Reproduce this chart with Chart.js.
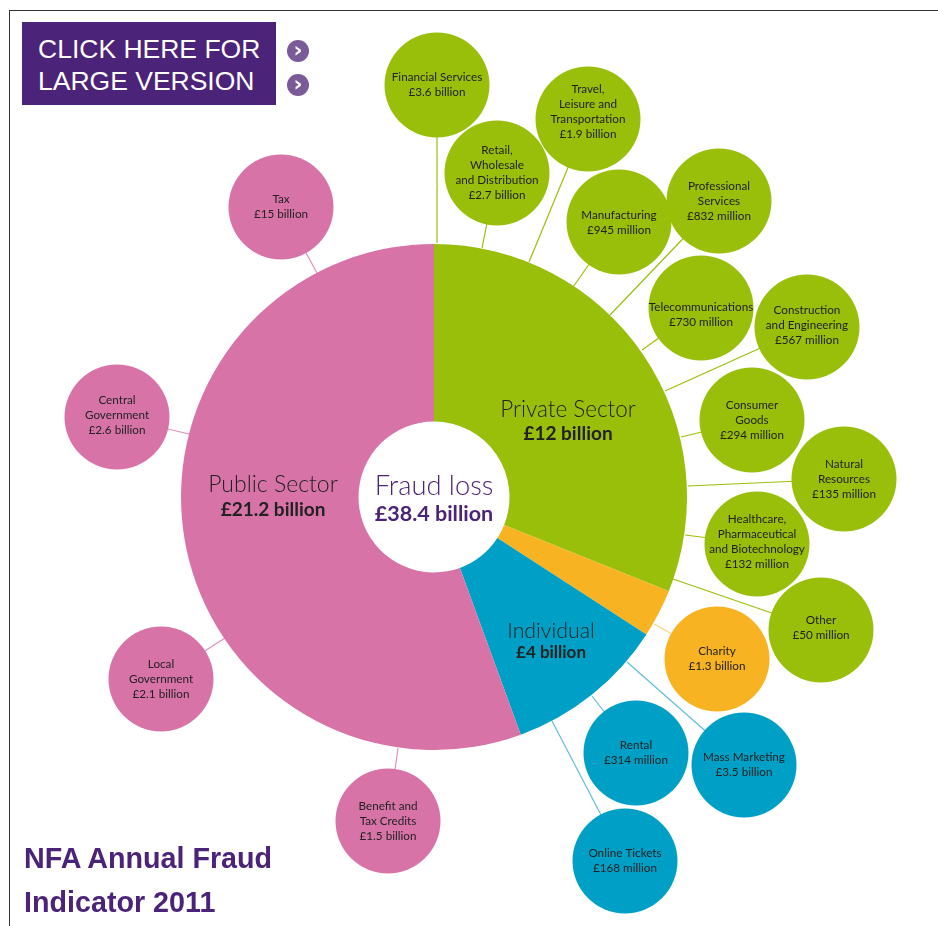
<!DOCTYPE html>
<html>
<head>
<meta charset="utf-8">
<title>NFA Annual Fraud Indicator 2011</title>
<script src="https://cdn.jsdelivr.net/npm/chart.js@4"></script>
<style>
    html, body { margin: 0; padding: 0; background: #fff; overflow: hidden; }
    #page { position: relative; width: 938px; height: 926px; }
    #page canvas { position: absolute; }
    #frame { position: absolute; left: 9px; top: 10px; width: 929px; height: 916px;
        border-left: 1px solid #333; border-top: 1px solid #333; box-sizing: border-box; }
    #button { position: absolute; left: 22px; top: 22px; width: 254px; height: 83px; background: #4B2378;
        color: #fff; font: 26.5px/32px "Liberation Sans", sans-serif; padding: 11px 0 0 16px; box-sizing: border-box; white-space: nowrap; }
    .arrow { position: absolute; left: 287px; width: 22px; height: 22px; border-radius: 50%; background: #7A5A98;
        color: #fff; font: bold 22px/19px "DejaVu Sans", sans-serif; text-align: center; }
    #title { position: absolute; left: 24px; top: 836px; color: #4B2378;
        font: bold 28.7px/44px "Liberation Sans", sans-serif; white-space: nowrap; }
</style>
</head>
<body>
<div id="page">
    <div id="frame"></div>
    <canvas id="linksChart" width="938" height="926" style="left:0;top:0"></canvas>
    <canvas id="sectorChart" width="506" height="506" style="left:181px;top:244px"></canvas>
    <div id="button">CLICK HERE FOR<br>LARGE VERSION</div>
    <div class="arrow" style="top:40px">&#8250;</div>
    <div class="arrow" style="top:74px">&#8250;</div>
    <div id="title">NFA Annual Fraud<br>Indicator 2011</div>
</div>
<script>
/* ===============================
   Data
=============================== */

const sectorNames = ["Private Sector", "Charity", "Individual", "Public Sector"];
const sectorAmounts = ["£12 billion", "£1.3 billion", "£4 billion", "£21.2 billion"];
const sectorValues = [11.93, 1.18, 3.95, 21.34];
const sectorColors = ["#99BF0B", "#F8B323", "#00A0C6", "#D873A8"];
const linkColors = ["#99BF0B", "#FBD27F", "#5DBEDA", "#E08FBB"];

const totalName = "Fraud loss";
const totalAmount = "£38.4 billion";

const satelliteNames = [
    "Financial Services",
    "Retail,\nWholesale\nand Distribution",
    "Travel,\nLeisure and\nTransportation",
    "Manufacturing",
    "Professional\nServices",
    "Telecommunications",
    "Construction\nand Engineering",
    "Consumer\nGoods",
    "Natural\nResources",
    "Healthcare,\nPharmaceutical\nand Biotechnology",
    "Other",
    "Charity",
    "Mass Marketing",
    "Rental",
    "Online Tickets",
    "Benefit and\nTax Credits",
    "Local\nGovernment",
    "Central\nGovernment",
    "Tax"
];

const satelliteAmounts = [
    "£3.6 billion", "£2.7 billion", "£1.9 billion", "£945 million", "£832 million",
    "£730 million", "£567 million", "£294 million", "£135 million", "£132 million",
    "£50 million", "£1.3 billion", "£3.5 billion", "£314 million", "£168 million",
    "£1.5 billion", "£2.1 billion", "£2.6 billion", "£15 billion"
];

const satelliteSector = [0, 0, 0, 0, 0, 0, 0, 0, 0, 0, 0, 1, 2, 2, 2, 3, 3, 3, 3];

const satelliteX = [437, 497, 588, 619, 719, 701, 807, 752, 844, 757, 821, 717, 744, 636, 625, 388, 161, 117, 281];
const satelliteY = [85, 173, 119, 222, 201, 308, 327, 420, 479, 544, 630, 659, 765, 753, 861, 821, 679, 417, 207];

const linkStartX = [437, 482, 529, 573, 610, 642, 665, 681, 688, 685, 673, 654, 627, 592, 552, 398, 225, 189, 317];
const linkStartY = [243, 248, 262, 287, 315, 350, 391, 437, 486, 535, 579, 624, 662, 696, 721, 748, 638, 434, 273];

// text block offset for the bubbles whose label sits off centre
const labelShift = [0, 0, -7, 1, 0, 7, -2, 0, 0, -2, -2, 0, 0, 0, 0, 0, 0, -2, 0];

/* ===============================
   Satellite bubbles and links
=============================== */

const bubbleRadius = 52.5;
const bodyFont = 'Lato, "Open Sans", sans-serif';

const linkDatasets = satelliteX.map((x, i) => ({
    type: "line",
    data: [{ x: linkStartX[i], y: linkStartY[i] }, { x: x, y: satelliteY[i] }],
    borderColor: linkColors[satelliteSector[i]],
    borderWidth: 1.2,
    pointRadius: 0,
    clip: false,
    order: 2
}));

const bubbleLabels = {
    id: "bubbleLabels",
    afterDatasetsDraw(chart) {
        const ctx = chart.ctx;
        const xs = chart.scales.x;
        const ys = chart.scales.y;
        ctx.save();
        ctx.font = "11.7px " + bodyFont;
        ctx.fillStyle = "#222";
        ctx.textAlign = "center";
        ctx.textBaseline = "middle";
        satelliteNames.forEach((name, i) => {
            const lines = name.split("\n").concat(satelliteAmounts[i]);
            const cx = xs.getPixelForValue(satelliteX[i]);
            const cy = ys.getPixelForValue(satelliteY[i]) + labelShift[i];
            lines.forEach((line, n) => {
                ctx.fillText(line, cx, cy + (n - (lines.length - 1) / 2) * 15);
            });
        });
        ctx.restore();
    }
};

const linksChart = new Chart(document.getElementById("linksChart"), {
    type: "bubble",
    data: {
        datasets: [{
            type: "bubble",
            data: satelliteX.map((x, i) => ({ x: x, y: satelliteY[i], r: bubbleRadius })),
            backgroundColor: satelliteSector.map(s => sectorColors[s]),
            borderWidth: 0,
            clip: false,
            order: 1
        }].concat(linkDatasets)
    },
    options: {
        responsive: false,
        animation: false,
        events: [],
        layout: { padding: 0 },
        plugins: { legend: { display: false }, tooltip: { enabled: false } },
        scales: {
            x: { type: "linear", min: 0, max: 938, display: false },
            y: { type: "linear", min: 0, max: 926, reverse: true, display: false }
        }
    },
    plugins: [bubbleLabels]
});

// bubble charts inset the plot area by the radius, so line the scales up with that area
const area = linksChart.chartArea;
linksChart.options.scales.x.min = area.left;
linksChart.options.scales.x.max = area.right;
linksChart.options.scales.y.min = area.top;
linksChart.options.scales.y.max = area.bottom;
linksChart.update();

/* ===============================
   Main doughnut
=============================== */

const sectorLabels = {
    id: "sectorLabels",
    afterDraw(chart) {
        const ctx = chart.ctx;
        const arcs = chart.getDatasetMeta(0).data;
        const cx = arcs[0].x;
        const cy = arcs[0].y;

        ctx.save();
        ctx.textAlign = "center";
        ctx.textBaseline = "middle";

        function block(name, amount, x, y, gap, color, nameSize, amountSize) {
            ctx.fillStyle = color;
            ctx.font = "300 " + nameSize + "px " + bodyFont;
            ctx.fillText(name, x, y);
            ctx.font = "bold " + amountSize + "px " + bodyFont;
            ctx.fillText(amount, x, y + gap);
        }

        block(sectorNames[0], sectorAmounts[0], cx + 134, cy - 87, 24, "#222", 22.5, 19);
        block(sectorNames[2], sectorAmounts[2], cx + 117, cy + 134, 22, "#222", 21.3, 17);
        block(sectorNames[3], sectorAmounts[3], cx - 161, cy - 12, 25, "#222", 23, 19);
        block(totalName, totalAmount, cx, cy - 11, 28, "#4B2378", 27.3, 21.5);

        ctx.restore();
    }
};

new Chart(document.getElementById("sectorChart"), {
    type: "doughnut",
    data: {
        labels: sectorNames,
        datasets: [{
            data: sectorValues,
            backgroundColor: sectorColors,
            borderWidth: 0
        }]
    },
    options: {
        responsive: false,
        animation: false,
        events: [],
        cutout: 75.5,
        layout: { padding: 0 },
        plugins: { legend: { display: false }, tooltip: { enabled: false } }
    },
    plugins: [sectorLabels]
});
</script>
</body>
</html>
